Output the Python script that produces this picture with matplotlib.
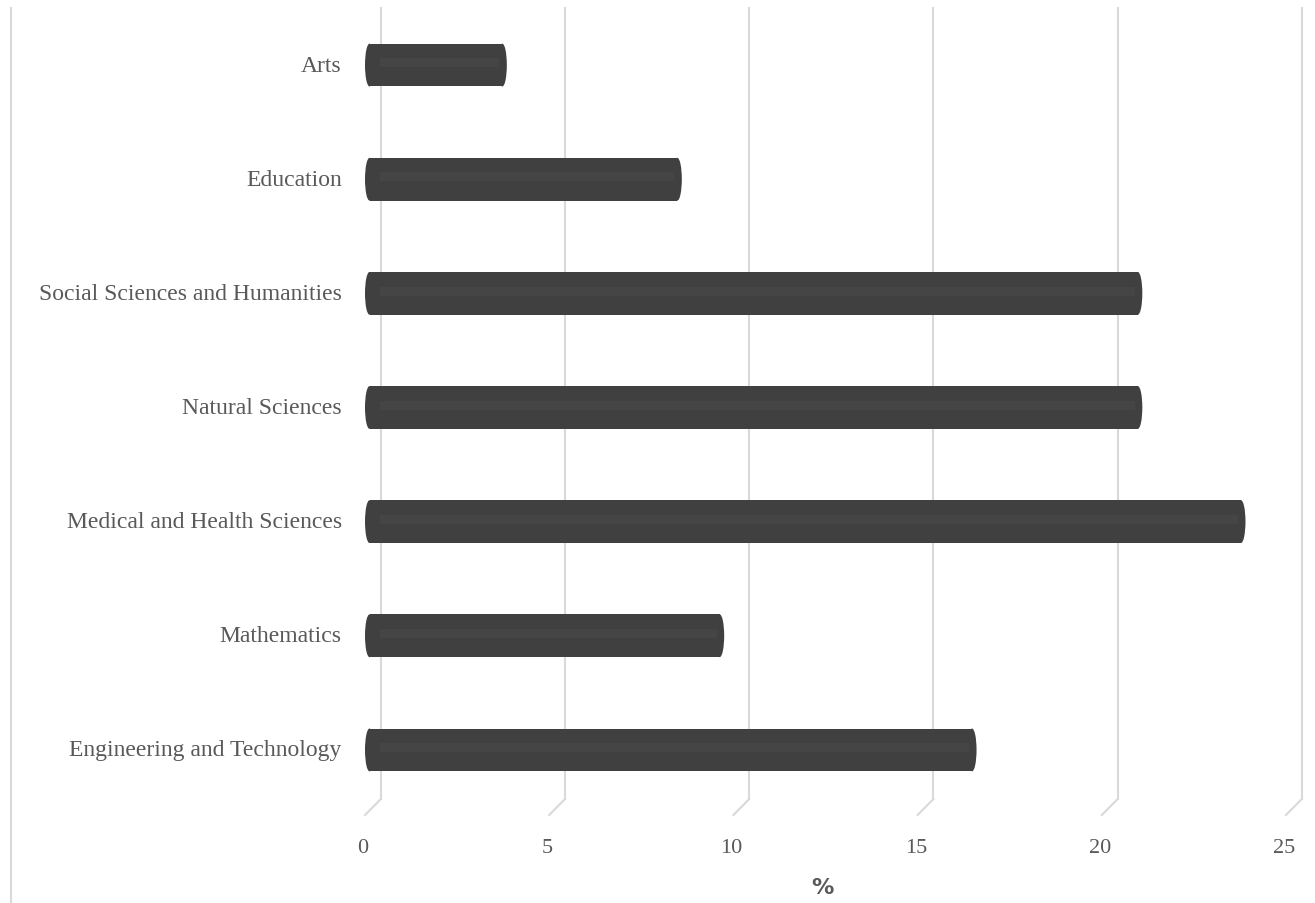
import matplotlib.pyplot as plt
import numpy as np
from matplotlib.lines import Line2D
from matplotlib.patches import Ellipse

categories = ["Engineering and Technology", "Mathematics", "Medical and Health Sciences",
              "Natural Sciences", "Social Sciences and Humanities", "Education", "Arts"]
values = [16.6, 9.75, 23.9, 21.1, 21.1, 8.6, 3.85]
ticks = [0, 5, 10, 15, 20, 25]

W, H = 1315, 904
fig = plt.figure(figsize=(W / 100, H / 100), dpi=100)
ax = fig.add_axes([340 / W, (H - 800) / H, 975 / W, 791 / H])

xmin, xmax = -25 / 36.84, 950 / 36.84
ax.set_xlim(xmin, xmax)
ax.set_ylim(-0.43, 6.5)
ax.axis("off")

# depth offset of the back wall (3D look)
depth = 0.43
ybot = -0.43
yfront = ybot - 16 / 114.2

for v in ticks:
    ax.plot([v + depth, v + depth], [ybot, 6.5], color="#d9d9d9", lw=1.5, zorder=1,
            clip_on=False)
    ax.plot([v + depth, v], [ybot, yfront], color="#d9d9d9", lw=1.5, zorder=1,
            clip_on=False)
    ax.text(v - 0.05, yfront - 0.2, str(v), ha="center", va="top", fontsize=16,
            family="Liberation Serif", color="#595959")

y = np.arange(len(categories))
bh = 0.375
cap = 9 / 36.84
start = 0.0
ax.barh(y, np.array(values) - cap, height=bh, left=start + cap / 2, color="#404040",
        lw=0, zorder=3)
# rounded cylinder ends
for yi, v in zip(y, values):
    for xc in (start + cap / 2, start + v - cap / 2):
        ax.add_patch(Ellipse((xc, yi), cap, bh, color="#404040", lw=0, zorder=3))
# subtle highlight along the cylinder
ax.barh(y + 0.02, np.array(values) - 0.6, height=0.08, left=0.4, color="#454545",
        lw=0, zorder=4)

for yi, c in zip(y, categories):
    ax.text(xmin + 0.05, yi, c, ha="right", va="center", fontsize=17,
            family="Liberation Serif", color="#595959", clip_on=False)

fig.text(822 / W, 1 - 888 / H, "%", ha="center", va="center", fontsize=16,
         fontweight="bold", family="DejaVu Sans", color="#595959")

fig.add_artist(Line2D([10.5 / W, 10.5 / W], [0, 1 - 9 / H], color="#d9d9d9", lw=1.5))

fig.savefig("out.png", dpi=100)
